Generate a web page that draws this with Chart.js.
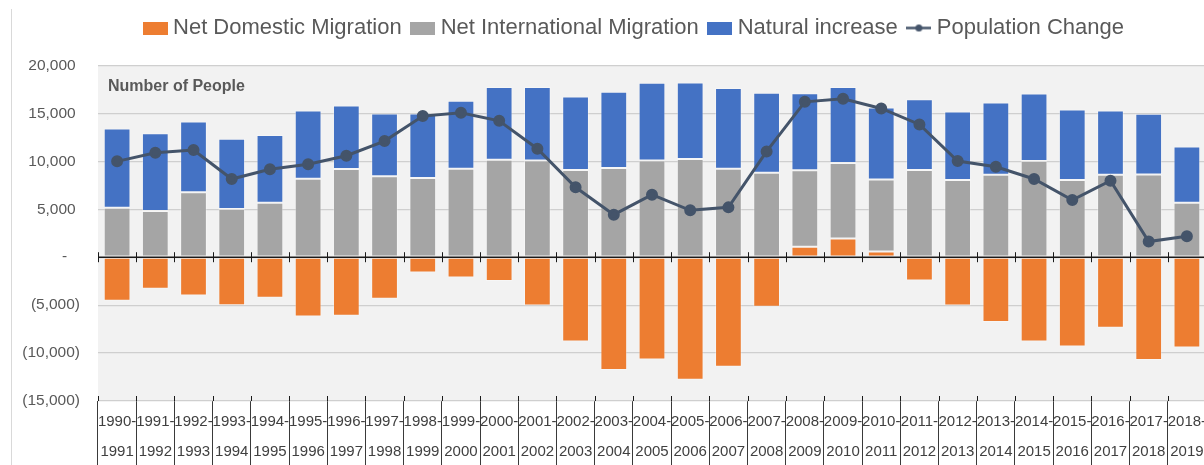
<!DOCTYPE html>
<html>
<head>
<meta charset="utf-8">
<script src="https://cdn.jsdelivr.net/npm/chart.js@4/dist/chart.umd.min.js"></script>
<style>
  html, body { margin: 0; padding: 0; overflow: hidden; background: #fff; }
  #edge { position: absolute; left: 11px; top: 9px; width: 0; height: 456px; border-left: 1px solid #d9d9d9; }
  #myChart { position: absolute; left: 0; top: 0; }
</style>
</head>
<body>
<div id="edge"></div>
<canvas id="myChart" width="1272" height="465"></canvas>
<script>
const years = ['1990','1991','1992','1993','1994','1995','1996','1997','1998','1999','2000','2001','2002','2003','2004',
  '2005','2006','2007','2008','2009','2010','2011','2012','2013','2014','2015','2016','2017','2018','2019']
const labels = years.slice(0, -1).map((y, i) => [y + '-', years[i + 1]])

const netDomestic = [-4550,-3300,-4000,-5000,-4240,-6190,-6110,-4340,-1600,-2120,-2470,-5040,-8790,-11770,-10660,
  -12780,-11430,-5180,1100,1940,590,-2430,-5040,-6770,-8790,-9310,-7360,-10730,-9410]
const netInternational = [5170,4820,6770,5030,5690,8190,9200,8440,8260,9230,10170,10100,9090,9300,10100,
  10240,9230,8820,7960,7880,7530,9090,8050,8610,10030,8050,8610,8640,5690]
const naturalIncrease = [8270,8100,7400,7330,7050,7120,6630,6560,6740,7080,7600,7670,7680,7950,8090,
  7990,8410,8330,8050,7950,7500,7400,7160,7540,7050,7370,6700,6320,5870]
const populationChange = [10000,10900,11180,8160,9170,9690,10590,12120,14720,15070,14230,11320,7290,4440,6520,
  4890,5200,11040,16210,16520,15520,13850,10030,9440,8160,5970,7980,1630,2190]

const colors = {
  orange: '#ED7D31',
  grey: '#A5A5A5',
  blue: '#4472C4',
  slate: '#44546A'
}
const font = '"Liberation Sans", Arial, sans-serif'
const textGrey = '#595959'

// legend icons: boxes for bars, line with dot for the line series
function boxIcon(color) {
  const c = document.createElement('canvas')
  c.width = 25; c.height = 13
  const g = c.getContext('2d')
  g.fillStyle = color
  g.fillRect(0, 0, 25, 13)
  return c
}
function lineIcon(color) {
  const c = document.createElement('canvas')
  c.width = 25; c.height = 13
  const g = c.getContext('2d')
  g.strokeStyle = color
  g.lineWidth = 2.5
  g.beginPath(); g.moveTo(0, 6.5); g.lineTo(25, 6.5); g.stroke()
  g.fillStyle = color
  g.beginPath(); g.arc(12.5, 6.5, 3.5, 0, Math.PI * 2); g.fill()
  return c
}
const legendIcons = [boxIcon(colors.orange), boxIcon(colors.grey), boxIcon(colors.blue), lineIcon(colors.slate)]

function fmt(v) {
  if (v === 0) return '-   '
  const s = Math.abs(v).toLocaleString('en-US')
  return v < 0 ? '(' + s + ')' : s + ' '
}

const plotDecor = {
  id: 'plotDecor',
  beforeDraw(chart) {
    const {ctx, chartArea: a} = chart
    ctx.save()
    ctx.fillStyle = '#f2f2f2'
    ctx.fillRect(a.left, a.top, a.right - a.left, a.bottom - a.top)
    ctx.restore()
  },
  afterDatasetsDraw(chart) {
    const {ctx, chartArea: a, scales} = chart
    const y0 = scales.y.getPixelForValue(0)
    const half = (scales.x.getPixelForValue(1) - scales.x.getPixelForValue(0)) / 2
    ctx.save()
    ctx.strokeStyle = '#1a1a1a'
    ctx.lineWidth = 1.5
    ctx.beginPath()
    ctx.moveTo(a.left, y0); ctx.lineTo(a.right, y0)
    ctx.stroke()
    ctx.lineWidth = 1
    ctx.beginPath()
    for (let i = 0; i <= labels.length; i++) {
      const x = Math.round(scales.x.getPixelForValue(i) - half) + 0.5
      ctx.moveTo(x, y0 - 5); ctx.lineTo(x, y0 + 5)
      ctx.moveTo(x, a.bottom - 5); ctx.lineTo(x, a.bottom)
    }
    ctx.stroke()
    ctx.fillStyle = textGrey
    ctx.font = 'bold 16px ' + font
    ctx.textBaseline = 'alphabetic'
    ctx.fillText('Number of People', a.left + 10, a.top + 25)
    ctx.restore()
  }
}

const barStyle = { borderColor: 'rgba(255,255,255,0.3)', borderWidth: 1, borderSkipped: false,
  barPercentage: 0.7, categoryPercentage: 1, stack: 'parts', order: 1 }

const chart = new Chart(document.getElementById('myChart'), {
  type: 'bar',
  data: {
    labels: labels,
    datasets: [
      { label: 'Net Domestic Migration', data: netDomestic, backgroundColor: colors.orange, ...barStyle },
      { label: 'Net International Migration', data: netInternational, backgroundColor: colors.grey, ...barStyle },
      { label: 'Natural increase', data: naturalIncrease, backgroundColor: colors.blue, ...barStyle },
      { label: 'Population Change', data: populationChange, type: 'line', stack: 'total', order: 0,
        borderColor: colors.slate, backgroundColor: colors.slate, borderWidth: 3,
        pointRadius: 4.5, pointHoverRadius: 4.5, pointBackgroundColor: colors.slate, tension: 0 }
    ]
  },
  options: {
    responsive: false,
    animation: false,
    layout: { padding: { top: 3, left: 0, right: 0, bottom: 0 } },
    plugins: {
      tooltip: { enabled: false },
      legend: {
        position: 'top',
        labels: {
          sort: (a, b) => a.datasetIndex - b.datasetIndex,
          usePointStyle: true,
          pointStyleWidth: 14,
          boxHeight: 13,
          padding: 14,
          color: textGrey,
          font: { family: font, size: 22 },
          generateLabels(chart) {
            const items = Chart.defaults.plugins.legend.labels.generateLabels(chart)
            items.forEach(it => { it.pointStyle = legendIcons[it.datasetIndex] })
            return items
          }
        }
      }
    },
    scales: {
      x: {
        stacked: true,
        grid: { offset: true, drawOnChartArea: false, tickLength: 64, color: '#3a3a3a', lineWidth: 1 },
        border: { display: false },
        ticks: {
          padding: -58,
          maxRotation: 0,
          autoSkip: false,
          color: '#404040',
          font: { family: '"Liberation Sans Narrow", ' + font, size: 15, lineHeight: 2 }
        },
        afterFit(scale) { scale.height = 64 }
      },
      xTop: {
        type: 'category',
        position: 'top',
        grid: { display: false },
        border: { display: false },
        ticks: { display: false },
        afterFit(scale) { scale.height = 16.5 }
      },
      y: {
        stacked: true,
        min: -15000,
        max: 20000,
        ticks: {
          stepSize: 5000,
          padding: 18,
          color: textGrey,
          font: { family: font, size: 15.5 },
          callback: v => fmt(v)
        },
        grid: { color: '#cfcfcf', lineWidth: 1.2, drawTicks: false },
        border: { display: false },
        afterFit(scale) { scale.width = 98 }
      },
      yRight: {
        type: 'linear',
        position: 'right',
        grid: { display: false },
        border: { display: false },
        ticks: { display: false },
        afterFit(scale) { scale.width = 66 }
      }
    }
  },
  plugins: [plotDecor]
})
</script>
</body>
</html>
